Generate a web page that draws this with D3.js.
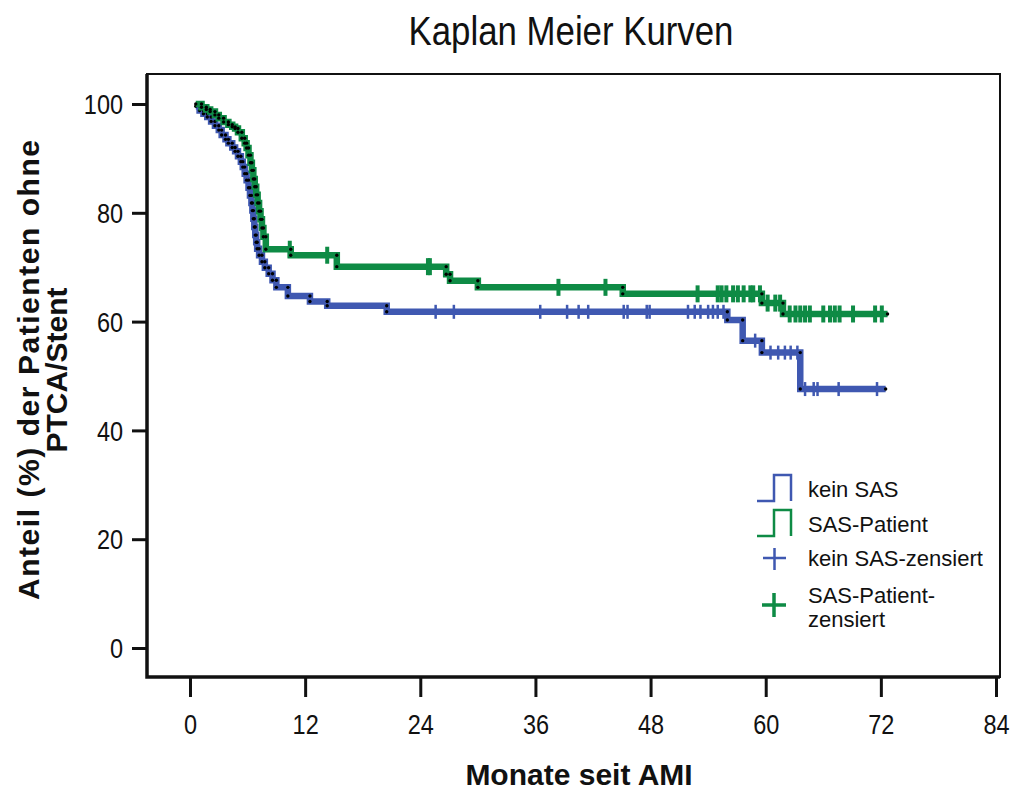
<!DOCTYPE html>
<html>
<head>
<meta charset="utf-8">
<script src="https://cdn.jsdelivr.net/npm/d3@7"></script>
<style>
  body { margin: 0; background: #fff; }
  text { font-family: "Liberation Sans", Arial, sans-serif; fill: #111; }
</style>
</head>
<body>
<div id="chart"></div>
<script>
// kein SAS: step times (months) and survival (%)
const blueTimes = [0.6, 1.0, 1.4, 1.8, 2.2, 2.6, 3.0, 3.3, 3.7, 4.0, 4.4, 4.7, 5.0, 5.3, 5.5, 5.7, 5.9, 6.1, 6.25, 6.4, 6.5, 6.6, 6.7, 6.8, 6.9, 7.0, 7.2, 7.5, 7.8, 8.2, 8.6, 9.0, 10.2, 12.5, 14.3, 20.5, 56.0, 57.6, 59.6, 63.6]
const blueSurv = [99.6, 98.8, 98.2, 97.6, 96.8, 96.0, 95.2, 94.3, 93.5, 92.8, 92.0, 91.3, 90.4, 89.4, 88.4, 87.2, 86.0, 84.6, 83.2, 81.8, 80.4, 78.9, 77.4, 75.9, 74.6, 73.4, 72.2, 71.0, 69.9, 68.8, 67.6, 66.3, 64.7, 63.7, 62.9, 61.8, 60.3, 56.5, 54.3, 47.6]
const blueEnd = 72.5
const blueCensored = [6.5, 25.6, 27.5, 36.5, 39.3, 40.5, 41.5, 45.2, 45.6, 47.6, 47.9, 51.9, 52.6, 53.2, 54.0, 54.5, 55.0, 55.6, 58.9, 60.5, 61.3, 62.0, 62.6, 63.3, 64.1, 65.0, 65.4, 67.6, 71.6]

// SAS-Patient
const greenTimes = [0.6, 1.2, 1.7, 2.1, 2.6, 3.0, 3.5, 4.0, 4.4, 4.7, 5.0, 5.4, 5.7, 5.9, 6.1, 6.3, 6.45, 6.6, 6.75, 6.9, 7.05, 7.2, 7.35, 7.5, 7.65, 7.9, 10.5, 15.3, 26.7, 27.1, 30.0, 45.1, 59.6, 61.8]
const greenSurv = [100, 99.4, 99.0, 98.6, 98.0, 97.4, 96.7, 96.2, 95.8, 95.5, 94.8, 93.7, 92.8, 91.9, 90.6, 89.2, 87.8, 86.2, 84.8, 83.3, 81.8, 80.3, 78.8, 77.2, 75.6, 73.3, 72.2, 70.1, 68.7, 67.5, 66.3, 65.1, 63.4, 61.4]
const greenEnd = 72.7
const greenCensored = [10.4, 14.3, 24.8, 25.0, 38.4, 43.3, 52.9, 55.0, 55.4, 55.9, 56.6, 57.1, 57.7, 58.4, 58.7, 59.4, 60.2, 61.0, 61.5, 62.5, 63.1, 63.6, 64.1, 64.6, 66.0, 66.7, 67.2, 67.7, 69.1, 71.4, 72.1]

const xTicks = [0, 12, 24, 36, 48, 60, 72, 84]
const yTicks = [0, 20, 40, 60, 80, 100]
const legendLabels = ['kein SAS', 'SAS-Patient', 'kein SAS-zensiert', ['SAS-Patient-', 'zensiert']]

const blue = '#3f58b1'
const green = '#0e8b45'

const width = 1010
const height = 790

const svg = d3.select('#chart').append('svg')
	.attr('width', width)
	.attr('height', height)

const x = d3.scaleLinear().domain([0, 84]).range([190, 996])
const y = d3.scaleLinear().domain([0, 100]).range([648, 104])

// frame
svg.append('rect')
	.attr('x', 147).attr('y', 74)
	.attr('width', 853).attr('height', 603)
	.attr('fill', 'none').attr('stroke', '#111').attr('stroke-width', 2)
svg.append('path')
	.attr('d', 'M147,74V677H1000')
	.attr('fill', 'none').attr('stroke', '#111').attr('stroke-width', 3.5)

// axes (tick labels a bit condensed like the original)
const squeeze = 0.87
const xAxis = svg.append('g')
	.attr('transform', 'translate(0,677)')
	.call(d3.axisBottom(x).tickValues(xTicks).tickSize(20).tickPadding(18))
xAxis.select('.domain').remove()
xAxis.selectAll('line').attr('stroke', '#111').attr('stroke-width', 3)
xAxis.selectAll('text')
	.style('font-size', '27px')
	.attr('transform', `scale(${squeeze},1)`)

const yAxis = svg.append('g')
	.attr('transform', 'translate(147,0)')
	.call(d3.axisLeft(y).tickValues(yTicks).tickSize(15))
yAxis.select('.domain').remove()
yAxis.selectAll('line').attr('stroke', '#111').attr('stroke-width', 3)
yAxis.selectAll('text')
	.style('font-size', '27px')
	.attr('x', -24 / squeeze)
	.attr('dy', '0.36em')
	.attr('transform', `scale(${squeeze},1)`)

// title and axis labels
svg.append('text')
	.attr('transform', `translate(571,45) scale(${squeeze},1)`)
	.attr('text-anchor', 'middle')
	.style('font-size', '40px')
	.text('Kaplan Meier Kurven')

svg.append('text')
	.attr('x', 579).attr('y', 785)
	.attr('text-anchor', 'middle')
	.style('font-size', '30px').style('font-weight', 'bold')
	.text('Monate seit AMI')

const ylab = svg.append('g')
	.attr('transform', 'translate(0,370) rotate(-90)')
ylab.append('text')
	.attr('x', -230).attr('y', 39)
	.attr('textLength', 460).attr('lengthAdjust', 'spacing')
	.style('font-size', '30px').style('font-weight', 'bold')
	.text('Anteil (%) der Patienten ohne')
ylab.append('text')
	.attr('x', 0).attr('y', 67)
	.attr('text-anchor', 'middle')
	.style('font-size', '30px').style('font-weight', 'bold')
	.text('PTCA/Stent')

// survival curves
function drawCurve(times, surv, end, censored, color, tickW, tickH) {
	const pts = times.map((t, i) => [t, surv[i]])
	pts.push([end, surv[surv.length - 1]])

	const line = d3.line()
		.x(d => x(d[0]))
		.y(d => y(d[1]))
		.curve(d3.curveStepAfter)

	svg.append('path')
		.datum(pts)
		.attr('d', line)
		.attr('fill', 'none')
		.attr('stroke', color)
		.attr('stroke-width', 6.5)

	// censored marks sit on the step value at that time
	const survAt = t => {
		let s = surv[0]
		for (let i = 0; i < times.length; i++) if (times[i] <= t) s = surv[i]
		return s
	}
	svg.append('g').selectAll('rect')
		.data(censored)
		.join('rect')
		.attr('x', d => x(d) - tickW / 2)
		.attr('y', d => y(survAt(d)) - tickH / 2)
		.attr('width', tickW)
		.attr('height', tickH)
		.attr('fill', color)

	// event dots at each drop
	const dots = []
	times.forEach((t, i) => {
		if (i > 0) dots.push([t, surv[i - 1]])
		dots.push([t, surv[i]])
	})
	dots.push([end, surv[surv.length - 1]])
	svg.append('g').selectAll('circle')
		.data(dots)
		.join('circle')
		.attr('cx', d => x(d[0]))
		.attr('cy', d => y(d[1]))
		.attr('r', 1.7)
		.attr('fill', '#000')
}

drawCurve(blueTimes, blueSurv, blueEnd, blueCensored, blue, 2.5, 14)
drawCurve(greenTimes, greenSurv, greenEnd, greenCensored, green, 4, 17)

// legend
const lg = svg.append('g')
const stepIcon = (y0, color) => {
	lg.append('path')
		.attr('d', `M757,${y0 + 26}H774V${y0}H791V${y0 + 26}`)
		.attr('fill', 'none').attr('stroke', color).attr('stroke-width', 2.5)
}
stepIcon(475, blue)
stepIcon(510, green)
lg.append('path').attr('d', 'M763,558H786M774.5,548V570')
	.attr('stroke', blue).attr('stroke-width', 2.5)
lg.append('path').attr('d', 'M762,605H786M774,593V617')
	.attr('stroke', green).attr('stroke-width', 3.5)

const legendY = [497, 532, 566, 603]
legendLabels.forEach((lab, i) => {
	const t = lg.append('text')
		.attr('x', 808).attr('y', legendY[i])
		.style('font-size', '22px')
	if (Array.isArray(lab)) {
		lab.forEach((s, j) => t.append('tspan').attr('x', 808).attr('y', legendY[i] + j * 24).text(s))
	} else {
		t.text(lab)
	}
})
</script>
</body>
</html>
